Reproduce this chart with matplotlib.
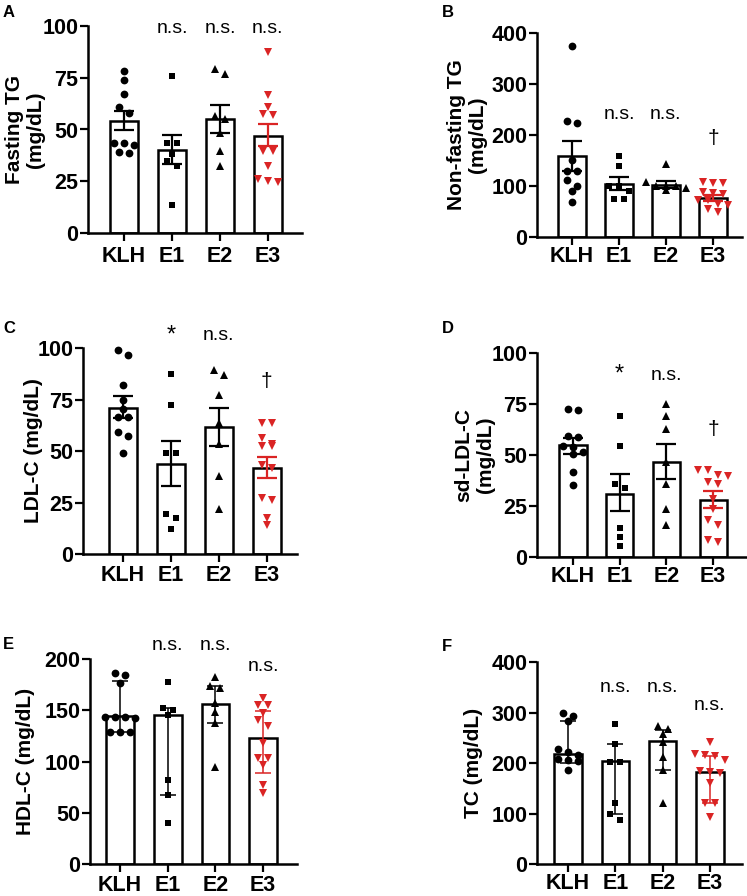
import matplotlib
matplotlib.use("Agg")
import matplotlib.pyplot as plt
import numpy as np

plt.rcParams['font.family'] = ['Liberation Sans', 'DejaVu Sans']

RED = '#DA2424'
groups = ['KLH', 'E1', 'E2', 'E3']
markers = ['o', 's', '^', 'v']
mcolors = ['black', 'black', 'black', RED]
msizes = [5.6, 5.0, 5.8, 5.8]

# ---------------- data ----------------
# Panel A: Fasting TG (mean +/- SEM)
A_klh = [78.5, 74.0, 67.0, 60.8, 57.9, 42.3, 43.4, 43.4, 38.6, 38.9]
A_e1 = [75.9, 43.7, 43.7, 38.3, 35.0, 32.5, 13.7]
A_e2 = [79.1, 76.8, 56.3, 55.0, 48.5, 39.4, 32.2]
A_e3 = [87.6, 66.7, 61.1, 57.4, 57.1, 39.4, 39.4, 32.2, 26.0, 24.4, 25.2]
A_bar = [54.0, 40.2, 55.1, 46.9]
A_lo = [49.6, 33.4, 48.5, 41.8]
A_hi = [59.0, 47.4, 61.9, 52.6]
A_notes = [(1, 'n.s.', 96.5), (2, 'n.s.', 96.5), (3, 'n.s.', 96.5)]

# Panel B: Non-fasting TG
B_klh = [373.9, 223.5, 226.8, 151.6, 128.8, 128.8, 112.0, 99.3, 89.5, 68.0]
B_e1 = [159.5, 139.9, 100.7, 100.7, 89.5, 74.5, 74.5]
B_e2 = [143.1, 107.0, 99.3, 99.3, 99.3, 96.0, 92.8]
B_e3 = [106, 107, 105, 88, 86, 84, 73, 73, 62, 64, 50, 55]
B_bar = [159.5, 104.6, 102.6, 76.5]
B_lo = [130.1, 92.8, 96.0, 71.2]
B_hi = [188.9, 117.0, 110.5, 83.0]
B_notes = [(1, 'n.s.', 231), (2, 'n.s.', 231), (3, '\u2020', 183)]

# Panel C: LDL-C
C_klh = [96.5, 99.2, 81.9, 74.7, 70.6, 66.6, 66.6, 59.4, 57.4, 48.9]
C_e1 = [87.6, 72.3, 48.9, 48.9, 19.5, 17.4, 12.1]
C_e2 = [89.5, 86.8, 77.1, 63.4, 53.4, 38.1, 21.9]
C_e3 = [63.4, 63.4, 56.1, 53.4, 52.4, 52.4, 43.2, 41.6, 26.0, 27.1, 17.4, 14.2]
C_bar = [71.1, 43.7, 61.8, 41.6]
C_lo = [66.1, 33.1, 52.4, 36.8]
C_hi = [76.6, 54.8, 71.1, 47.3]
C_notes = [(1, '*', 103), (2, 'n.s.', 104), (3, '\u2020', 81)]

# Panel D: sd-LDL-C
D_klh = [72.2, 72.7, 58.8, 59.3, 54.2, 53.9, 50.7, 51.5, 41.7, 35.1]
D_e1 = [69.0, 54.4, 35.9, 34.0, 14.4, 9.8, 5.2]
D_e2 = [75.2, 69.0, 62.9, 46.6, 35.9, 23.7, 15.5]
D_e3 = [42.5, 39.5, 36.8, 40.0, 42.5, 35.9, 28.6, 23.7, 18.3, 15.5, 7.4, 8.5]
D_bar = [54.7, 31.0, 46.6, 27.8]
D_lo = [50.7, 22.5, 38.1, 24.2]
D_hi = [58.5, 40.7, 55.6, 32.2]
D_notes = [(1, '*', 86.6), (2, 'n.s.', 86.6), (3, '\u2020', 60)]

# Panel E: HDL-C (median, interquartile range)
E_klh = [186.7, 184.4, 177.0, 143.8, 143.8, 143.8, 142.0, 129.2, 129.2, 129.2]
E_e1 = [178.0, 152.0, 150.3, 145.5, 82.0, 67.5, 40.0]
E_e2 = [182.1, 173.7, 171.4, 156.8, 148.7, 137.3, 94.2]
E_e3 = [161.7, 155.2, 155.2, 147.1, 140.6, 134.7, 117.9, 103.2, 103.2, 96.8, 77.3, 69.2]
E_bar = [144.5, 145.5, 156.2, 123.4]
E_lo = [129.2, 67.5, 138.0, 88.6]
E_hi = [179.0, 152.0, 174.0, 149.7]
E_notes = [(1, 'n.s.', 208.8), (2, 'n.s.', 208.8), (3, 'n.s.', 188.6)]

# Panel F: TC (median, interquartile range)
F_klh = [299, 293, 283, 227, 222, 216, 208, 205, 203, 187]
F_e1 = [278, 237, 202, 202, 120, 99, 88]
F_e2 = [272.8, 268, 257, 242, 212, 186, 121]
F_e3 = [242, 217, 216, 214, 206, 184, 182, 181, 160, 120, 120, 94]
F_bar = [218.8, 204.3, 243.2, 182.5]
F_lo = [200, 99, 186, 120]
F_hi = [283, 237, 266, 213.5]
F_notes = [(1, 'n.s.', 340.7), (2, 'n.s.', 340.7), (3, 'n.s.', 305.8)]

# ---------------- layout ----------------
W, H = 747, 896
fig = plt.figure(figsize=(W / 100, H / 100), dpi=100)

panels = [
    dict(letter='A', box=(88, 302, 26, 233), xlim=(-0.75, 3.71), ylim=(0, 100),
         yticks=[0, 25, 50, 75, 100], ylabel='Fasting TG\n(mg/dL)', labx=-0.20,
         pts=[A_klh, A_e1, A_e2, A_e3], bar=A_bar, lo=A_lo, hi=A_hi, notes=A_notes,
         thin=False, lpos=(3, 5), xpad=3.7),
    dict(letter='B', box=(537, 742, 33, 237), xlim=(-0.745, 3.62), ylim=(0, 400),
         yticks=[0, 100, 200, 300, 400], ylabel='Non-fasting TG\n(mg/dL)', labx=-0.244,
         pts=[B_klh, B_e1, B_e2, B_e3], bar=B_bar, lo=B_lo, hi=B_hi, notes=B_notes,
         thin=False, lpos=(442, 5), xpad=0.4),
    dict(letter='C', box=(83, 297, 348, 554), xlim=(-0.83, 3.63), ylim=(0, 100),
         yticks=[0, 25, 50, 75, 100], ylabel='LDL-C (mg/dL)', labx=-0.187,
         pts=[C_klh, C_e1, C_e2, C_e3], bar=C_bar, lo=C_lo, hi=C_hi, notes=C_notes,
         thin=False, lpos=(3, 321), xpad=2.0),
    dict(letter='D', box=(537, 750, 353, 557), xlim=(-0.77, 3.79), ylim=(0, 100),
         yticks=[0, 25, 50, 75, 100], ylabel='sd-LDL-C\n(mg/dL)', labx=-0.197,
         pts=[D_klh, D_e1, D_e2, D_e3], bar=D_bar, lo=D_lo, hi=D_hi, notes=D_notes,
         thin=False, lpos=(442, 321), xpad=0.4),
    dict(letter='E', box=(90, 297, 659, 864), xlim=(-0.63, 3.71), ylim=(0, 200),
         yticks=[0, 50, 100, 150, 200], ylabel='HDL-C (mg/dL)', labx=-0.266,
         pts=[E_klh, E_e1, E_e2, E_e3], bar=E_bar, lo=E_lo, hi=E_hi, notes=E_notes,
         thin=True, lpos=(3, 637), xpad=1.8),
    dict(letter='F', box=(537, 742, 662, 864), xlim=(-0.655, 3.68), ylim=(0, 400),
         yticks=[0, 100, 200, 300, 400], ylabel='TC (mg/dL)', labx=-0.263,
         pts=[F_klh, F_e1, F_e2, F_e3], bar=F_bar, lo=F_lo, hi=F_hi, notes=F_notes,
         thin=True, lpos=(442, 639), xpad=0.6),
]


def swarm(values, ppx, ppy, step_px=10.0, thresh_px=6.5):
    """Row-based beeswarm offsets (in data x units)."""
    vals = np.asarray(values, dtype=float)
    order = np.argsort(-vals)
    offs = np.zeros(len(vals))
    rows = []
    cur = []
    for idx in order:
        if cur and abs(vals[cur[0]] - vals[idx]) * ppy >= thresh_px:
            rows.append(cur)
            cur = []
        cur.append(idx)
    if cur:
        rows.append(cur)
    for row in rows:
        n = len(row)
        for k, idx in enumerate(row):
            offs[idx] = (k - (n - 1) / 2.0) * step_px / ppx
    return offs


for p in panels:
    x0, x1, yt, yb = p['box']
    ax = fig.add_axes([x0 / W, 1 - yb / H, (x1 - x0) / W, (yb - yt) / H])
    ax.set_xlim(*p['xlim'])
    ax.set_ylim(*p['ylim'])
    ppx = (x1 - x0) / (p['xlim'][1] - p['xlim'][0])
    ppy = (yb - yt) / (p['ylim'][1] - p['ylim'][0])

    xs = np.arange(len(groups))
    ax.bar(xs, p['bar'], width=0.58, color='white', edgecolor='black',
           linewidth=1.8, zorder=1)

    for i, vals in enumerate(p['pts']):
        offs = swarm(vals, ppx, ppy)
        ax.plot(i + offs, vals, linestyle='none', marker=markers[i],
                color=mcolors[i], markersize=msizes[i], markeredgewidth=0,
                zorder=2, clip_on=False)

    for i in range(len(groups)):
        b = p['bar'][i]
        yerr = [[b - p['lo'][i]], [p['hi'][i] - b]]
        if p['thin']:
            lw, cs = 1.1, 5.5
        else:
            lw, cs = 1.6, 7
        ax.errorbar([i], [b], yerr=yerr, fmt='none', ecolor=mcolors[i],
                    elinewidth=lw, capsize=cs, capthick=lw, zorder=3)

    for gi, txt, yv in p['notes']:
        fs = 14 if txt == 'n.s.' else (17 if txt == '*' else 15)
        ax.text(gi, yv, txt, ha='center', va='baseline', fontsize=fs,
                fontweight='normal', color='black', zorder=4, clip_on=False)

    for s in ['top', 'right']:
        ax.spines[s].set_visible(False)
    for s in ['left', 'bottom']:
        ax.spines[s].set_linewidth(1.8)

    ax.set_xticks(xs)
    ax.set_xticklabels(groups, fontsize=15.5, fontweight='bold')
    ax.set_yticks(p['yticks'])
    ax.set_yticklabels([str(t) for t in p['yticks']], fontsize=15.5, fontweight='bold')
    ax.tick_params(axis='x', length=6.0, width=1.6, pad=p['xpad'])
    ax.tick_params(axis='y', length=6.0, width=1.6, pad=1.0)

    ax.set_ylabel(p['ylabel'], fontsize=15, fontweight='bold', linespacing=1.15)
    ax.yaxis.set_label_coords(p['labx'], 0.5)

    lx, ly = p['lpos']
    fig.text(lx / W, 1 - ly / H, p['letter'], ha='left', va='top',
             fontsize=12, fontweight='bold')

fig.savefig('out.png', dpi=100)
